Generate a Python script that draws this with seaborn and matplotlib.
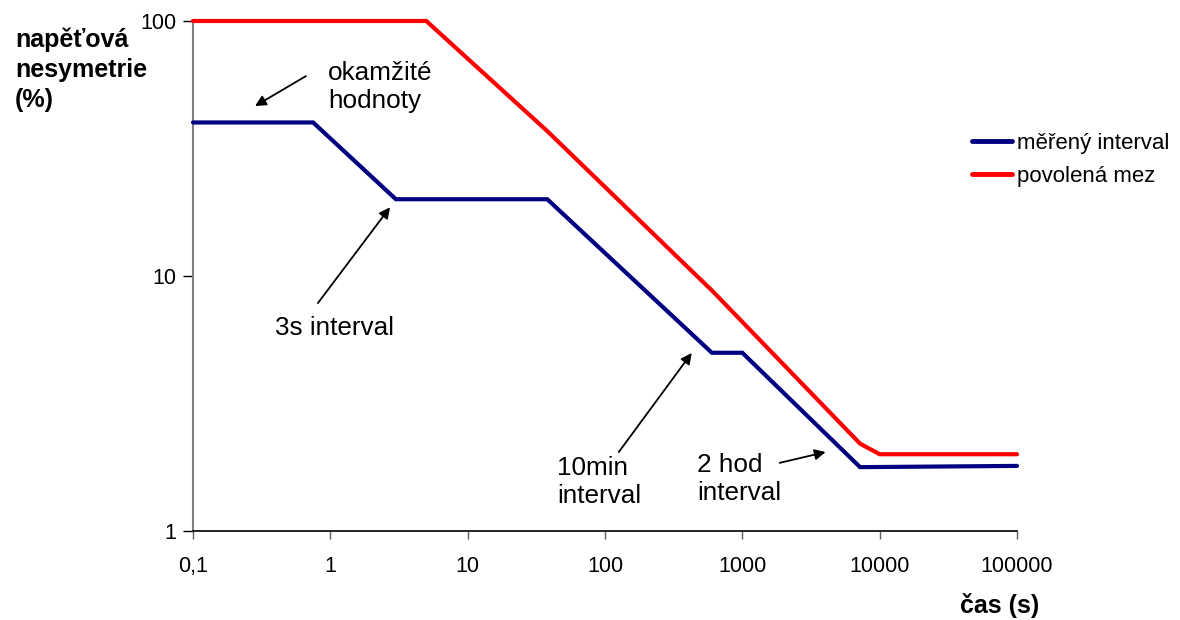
import matplotlib
matplotlib.use("Agg")
import matplotlib.pyplot as plt
import matplotlib.ticker as mticker
import seaborn as sns
import pandas as pd

# Measured interval (blue) and permitted limit (red): time in s, unbalance in %
measured_t = [0.1, 0.75, 3, 38, 600, 1000, 7200, 100000]
measured_v = [40, 40, 20, 20, 5, 5, 1.78, 1.8]
limit_t = [0.1, 5, 38, 610, 7200, 10000, 100000]
limit_v = [100, 100, 37, 8.7, 2.2, 2.0, 2.0]
series_names = ["měřený interval", "povolená mez"]
series_colors = ["#000080", "#FF0000"]
x_ticks = [0.1, 1, 10, 100, 1000, 10000, 100000]
x_tick_labels = ["0,1", "1", "10", "100", "1000", "10000", "100000"]
y_ticks = [1, 10, 100]
y_tick_labels = ["1", "10", "100"]

df = pd.concat([
    pd.DataFrame({"t": measured_t, "v": measured_v, "serie": series_names[0]}),
    pd.DataFrame({"t": limit_t, "v": limit_v, "serie": series_names[1]}),
], ignore_index=True)

sns.set_style("white")
plt.rcParams["font.family"] = ["Liberation Sans", "DejaVu Sans"]
plt.rcParams["text.color"] = "black"
plt.rcParams["xtick.color"] = "black"
plt.rcParams["ytick.color"] = "black"

fig = plt.figure(figsize=(11.8, 6.2), dpi=100)
ax = fig.add_axes([193 / 1180, 1 - 531 / 620, (1017 - 193) / 1180, (531 - 21) / 620])

sns.lineplot(data=df, x="t", y="v", hue="serie", estimator=None, sort=False,
             palette=dict(zip(series_names, series_colors)),
             linewidth=3, ax=ax, legend=False)
for line in ax.lines:
    line.set_solid_joinstyle("miter")
    line.set_clip_on(False)
    line.set_zorder(3)
ax.set_xscale("log")
ax.set_yscale("log")
ax.set_xlim(0.1, 100000)
ax.set_ylim(1, 100)

ax.xaxis.set_major_locator(mticker.FixedLocator(x_ticks))
ax.xaxis.set_major_formatter(mticker.FixedFormatter(x_tick_labels))
ax.xaxis.set_minor_locator(mticker.NullLocator())
ax.yaxis.set_major_locator(mticker.FixedLocator(y_ticks))
ax.yaxis.set_major_formatter(mticker.FixedFormatter(y_tick_labels))
ax.yaxis.set_minor_locator(mticker.NullLocator())

for side in ("top", "right"):
    ax.spines[side].set_visible(False)
ax.spines["left"].set_color("#808080")
ax.spines["left"].set_linewidth(1.5)
ax.spines["bottom"].set_color("black")
ax.spines["bottom"].set_linewidth(1.2)
ax.spines["left"].set_zorder(1)
ax.tick_params(axis="x", direction="out", length=6, width=1, color="#606060",
               labelcolor="black", labelsize=15.5, pad=12, bottom=True)
ax.tick_params(axis="y", direction="out", length=7, width=1, color="black",
               labelcolor="black", labelsize=15.5, pad=5, left=True)
ax.set_xlabel("")
ax.set_ylabel("")
ax.grid(False)

# Axis titles
fig.text(15 / 1180, 1 - 70 / 620, "napěťová\nnesymetrie\n(%)", fontsize=18,
         fontweight="bold", ha="left", va="center", linespacing=1.32)
fig.text(1000 / 1180, 1 - 606 / 620, "čas (s)", fontsize=18,
         fontweight="bold", ha="center", va="center")

# Annotations with arrows
arrow = dict(arrowstyle="-|>", color="black", lw=1.3, mutation_scale=16,
             shrinkA=0, shrinkB=0)
text_kw = dict(fontsize=18.8, ha="left", va="center", linespacing=1.22)
ax.text(0.96, 55, "okamžité\nhodnoty", **text_kw)
ax.annotate("", xy=(0.283, 46.4), xytext=(0.664, 60.8), arrowprops=arrow)

ax.text(0.395, 6.25, "3s interval", **text_kw)
ax.annotate("", xy=(2.72, 18.6), xytext=(0.812, 7.83), arrowprops=arrow)

ax.text(44.6, 1.556, "10min\ninterval", **text_kw)
ax.annotate("", xy=(428, 4.99), xytext=(126, 2.04), arrowprops=arrow)

ax.text(466, 1.6, "2 hod\ninterval", **text_kw)
ax.annotate("", xy=(4040, 2.04), xytext=(1870, 1.85), arrowprops=arrow)

# Legend
handles = [plt.Line2D([], [], color=c, lw=3.5) for c in series_colors]
fig.legend(handles, series_names, loc="upper left",
           bbox_to_anchor=(963 / 1180, 1 - 124 / 620), frameon=False,
           fontsize=16, handlelength=1.8, handletextpad=0.25, labelspacing=0.55,
           borderaxespad=0)

fig.savefig("out.png", dpi=100)
